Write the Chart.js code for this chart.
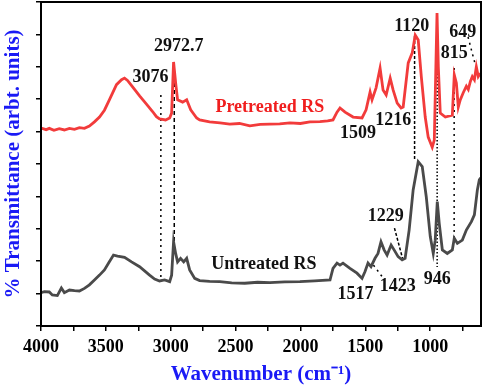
<!DOCTYPE html>
<html>
<head>
<meta charset="utf-8">
<script src="https://cdn.jsdelivr.net/npm/chart.js@4/dist/chart.umd.min.js"></script>
<style>
  html, body { margin: 0; padding: 0; background: #fff; }
  #wrap { width: 484px; height: 386px; }
</style>
</head>
<body>
<div id="wrap"><canvas id="ftir" width="484" height="386"></canvas></div>
<script>
// pretreated rice straw (red trace)
var wn_pre = [4000, 3960, 3936, 3900, 3859, 3820, 3781, 3742, 3704, 3665, 3627, 3588, 3549, 3511, 3473, 3418, 3379, 3356, 3333, 3294, 3240, 3187, 3140, 3110, 3086, 3040, 3008, 2993, 2978, 2962, 2947, 2908, 2877, 2846, 2800, 2777, 2700, 2620, 2545, 2470, 2390, 2310, 2236, 2160, 2081, 2000, 1927, 1850, 1790, 1749, 1718, 1695, 1656, 1594, 1525, 1494, 1463, 1448, 1417, 1386, 1363, 1339, 1308, 1285, 1254, 1224, 1208, 1169, 1138, 1115, 1092, 1068, 1038, 1015, 984, 968, 947, 937, 922, 883, 829, 814, 798, 783, 768, 745, 721, 706, 690, 675, 659, 644, 629, 613];
var val_pre = [6.11, 6.06, 6.10, 6.04, 6.09, 6.05, 6.10, 6.07, 6.12, 6.10, 6.17, 6.30, 6.45, 6.66, 6.98, 7.45, 7.60, 7.65, 7.58, 7.38, 7.10, 6.85, 6.62, 6.46, 6.39, 6.36, 6.42, 6.57, 8.15, 7.50, 6.98, 6.91, 6.98, 6.67, 6.42, 6.36, 6.30, 6.27, 6.23, 6.25, 6.18, 6.22, 6.23, 6.24, 6.27, 6.25, 6.30, 6.31, 6.33, 6.36, 6.60, 6.73, 6.60, 6.45, 6.42, 6.67, 7.22, 6.98, 7.35, 7.96, 7.28, 7.13, 7.65, 7.28, 6.88, 6.73, 6.76, 8.12, 8.43, 8.98, 8.83, 7.69, 6.45, 5.83, 5.52, 5.74, 9.66, 7.99, 6.57, 6.45, 6.51, 7.75, 7.50, 6.76, 6.98, 7.20, 7.40, 7.30, 7.55, 7.70, 7.60, 8.00, 7.70, 7.80];

// untreated rice straw (grey trace)
var wn_raw = [4000, 3974, 3936, 3913, 3874, 3843, 3820, 3781, 3742, 3704, 3665, 3627, 3588, 3549, 3511, 3473, 3441, 3410, 3356, 3302, 3240, 3163, 3124, 3086, 3047, 3008, 2993, 2978, 2962, 2947, 2924, 2900, 2877, 2854, 2815, 2777, 2700, 2622, 2530, 2429, 2330, 2236, 2120, 2004, 1890, 1772, 1749, 1718, 1695, 1672, 1618, 1564, 1525, 1502, 1479, 1456, 1425, 1402, 1379, 1355, 1332, 1301, 1278, 1247, 1216, 1193, 1162, 1131, 1092, 1061, 1030, 999, 976, 961, 945, 930, 906, 868, 829, 814, 790, 752, 721, 682, 659, 636, 621, 610];
var val_raw = [1.03, 1.06, 1.05, 0.96, 0.94, 1.17, 1.03, 1.11, 1.09, 1.08, 1.16, 1.27, 1.42, 1.57, 1.73, 1.98, 2.19, 2.16, 2.12, 1.98, 1.83, 1.57, 1.45, 1.39, 1.42, 1.37, 1.57, 2.60, 2.24, 1.98, 2.09, 1.98, 2.09, 1.73, 1.47, 1.40, 1.38, 1.37, 1.33, 1.32, 1.35, 1.34, 1.36, 1.37, 1.39, 1.42, 1.78, 1.94, 1.88, 1.94, 1.78, 1.63, 1.47, 1.68, 1.94, 1.83, 2.09, 2.24, 2.60, 2.35, 2.19, 2.50, 2.35, 2.14, 2.04, 2.09, 2.96, 4.20, 5.07, 4.92, 3.99, 2.76, 2.24, 2.65, 3.84, 3.17, 2.35, 2.24, 2.35, 2.71, 2.55, 2.65, 2.96, 3.22, 3.43, 4.20, 4.51, 4.57];

var x_ticks = [4000, 3500, 3000, 2500, 2000, 1500, 1000];

// peak marker lines: [wavenumber top, value top, wavenumber bottom, value bottom, dash]
var marks = [
  [3076, 7.13, 3076, 1.39, [2, 4]],
  [2972.7, 8.15, 2972.7, 2.59, [4, 3]],
  [1120, 8.95, 1120, 5.12, [3, 2]],
  [946, 8.12, 946, 1.82, [1.5, 2]],
  [815, 7.96, 815, 2.75, [2, 4]],
  [708, 8.92, 649, 8.02, [2, 4]],
  [1275, 3.02, 1213, 2.09, [3, 2]],
  [1437, 1.88, 1360, 1.47, [2, 4]]
];

// peak labels: text, wavenumber, value
var peak_txt = ['3076', '2972.7', '1120', '649', '815', '1509', '1216', '1229', '1517', '1423', '946'];
var peak_wn = [3155, 2939, 1142, 748, 814, 1556, 1285, 1343, 1575, 1250, 945];
var peak_val = [7.69, 8.64, 9.26, 9.07, 8.43, 5.96, 6.36, 3.37, 0.98, 1.23, 1.44];

function pts(xs, ys) {
  var out = [];
  for (var i = 0; i < xs.length; i++) out.push({x: xs[i], y: ys[i]});
  return out;
}

var datasets = [
  {label: 'Pretreated RS', data: pts(wn_pre, val_pre), borderColor: '#f23b3b', borderWidth: 2.8, pointRadius: 0, showLine: true, tension: 0},
  {label: 'Untreated RS', data: pts(wn_raw, val_raw), borderColor: '#4a4a4a', borderWidth: 2.8, pointRadius: 0, showLine: true, tension: 0}
];
marks.forEach(function (m) {
  datasets.push({data: [{x: m[0], y: m[1]}, {x: m[2], y: m[3]}], borderColor: '#000', borderWidth: 1.5,
    borderDash: m[4], pointRadius: 0, showLine: true});
});

var serif = "'Liberation Serif', 'Times New Roman', serif";

var textPlugin = {
  id: 'texts',
  afterDatasetsDraw: function (chart) {
    var c = chart.ctx, xs = chart.scales.x, ys = chart.scales.y, a = chart.chartArea;
    c.save();
    c.font = 'bold 18px ' + serif;
    c.textAlign = 'center';
    c.textBaseline = 'middle';
    c.fillStyle = '#111';
    for (var i = 0; i < peak_txt.length; i++) {
      c.fillText(peak_txt[i], xs.getPixelForValue(peak_wn[i]), ys.getPixelForValue(peak_val[i]));
    }
    c.fillStyle = '#f01e1e';
    c.fillText('Pretreated RS', xs.getPixelForValue(2236), ys.getPixelForValue(6.74));
    c.fillStyle = '#111';
    c.fillText('Untreated RS', xs.getPixelForValue(2282), ys.getPixelForValue(1.90));
    c.strokeStyle = '#000';
    c.lineWidth = 2;
    c.strokeRect(a.left, a.top, a.right - a.left, a.bottom - a.top);
    c.restore();
  }
};

new Chart(document.getElementById('ftir'), {
  type: 'scatter',
  data: {datasets: datasets},
  options: {
    responsive: false,
    animation: false,
    layout: {padding: {top: 2, right: 3, left: 0, bottom: 0}},
    plugins: {legend: {display: false}, tooltip: {enabled: false}},
    scales: {
      x: {
        type: 'linear', reverse: true, min: 608, max: 4000,
        afterFit: function (s) { s.height = 60; },
        afterBuildTicks: function (s) {
          var t = [];
          for (var v = 750; v <= 4000; v += 250) t.push({value: v});
          s.ticks = t;
        },
        ticks: {
          autoSkip: false, maxRotation: 0, padding: 6, color: '#000',
          font: {family: serif, size: 18, weight: 'bold'},
          callback: function (v) { return x_ticks.indexOf(v) >= 0 ? String(v) : ''; }
        },
        grid: {drawOnChartArea: false, color: '#000', lineWidth: 1.5, tickLength: 5},
        border: {color: '#000', width: 2},
        title: {display: true, text: 'Wavenumber (cm⁻¹)', color: '#1a1af5', padding: {top: 0, bottom: -1},
          font: {family: serif, size: 21, weight: 'bold'}}
      },
      y: {
        min: 0, max: 10,
        afterFit: function (s) { s.width = 41; },
        ticks: {stepSize: 1, display: false},
        grid: {drawOnChartArea: false, color: '#000', lineWidth: 1.5, tickLength: 5},
        border: {color: '#000', width: 2},
        title: {display: true, text: '% Transmittance (arbt. units)', color: '#1a1af5', padding: {top: 1, bottom: 0},
          font: {family: serif, size: 21, weight: 'bold'}}
      }
    }
  },
  plugins: [textPlugin]
});
</script>
</body>
</html>
